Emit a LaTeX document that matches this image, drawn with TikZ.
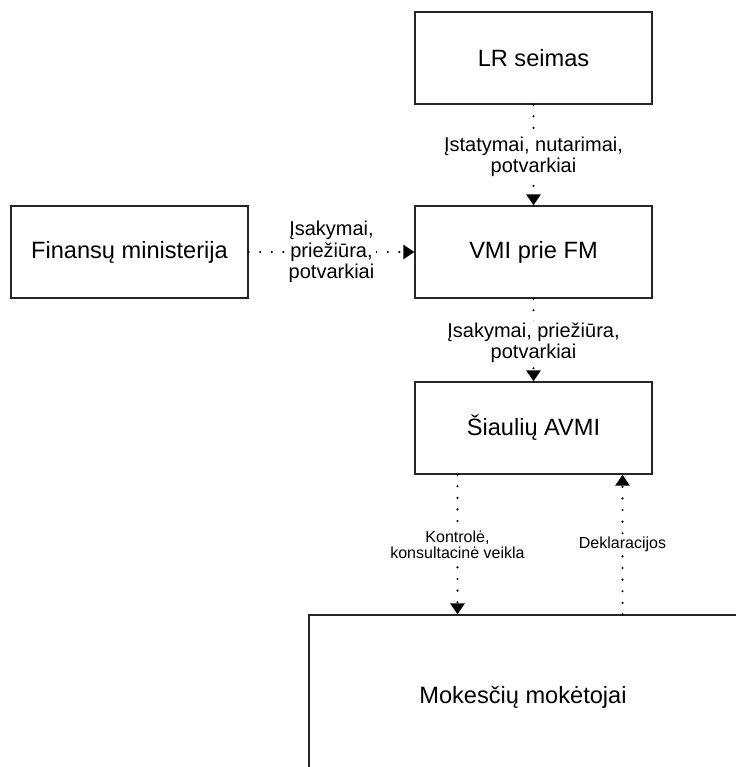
\documentclass[tikz,border=0pt]{standalone}
\usepackage{fontspec}
\setmainfont{Liberation Sans}
\usetikzlibrary{arrows.meta}

\begin{document}
\begin{tikzpicture}[
  x=0.5pt, y=-0.5pt,
  box/.style={draw=black!85, line width=0.6pt, minimum width=118.5pt, minimum height=46pt, font=\fontsize{11.8}{14}\selectfont},
  flow/.style={line width=1.2pt, line cap=round, dash pattern=on 0pt off 5.8pt, -{Triangle[width=7pt, length=5.5pt]}},
  lbl/.style={fill=white, inner sep=1pt, align=center, font=\fontsize{10}{10.6}\selectfont},
  small lbl/.style={lbl, font=\fontsize{8}{7.8}\selectfont},
]
  \useasboundingbox (0,0) rectangle (735,767);

  \node[box] (lr) at (533.5, 58) {LR seimas};
  \node[box] (vmi) at (533.5, 252) {VMI prie FM};
  \node[box] (fin) at (129.5, 252) {Finansų ministerija};
  \node[box] (avmi) at (533.5, 428) {Šiaulių AVMI};
  \node[box, minimum width=214pt, minimum height=82pt] (mok) at (523, 697) {Mokesčių mokėtojai};

  \draw[flow] (lr) -- node[lbl, yshift=-1pt] {Įstatymai, nutarimai,\\potvarkiai} (vmi);
  \draw[flow] (fin) -- node[lbl] {Įsakymai,\\priežiūra,\\potvarkiai} (vmi);
  \draw[flow] (vmi) -- node[lbl, yshift=-1.5pt] {Įsakymai, priežiūra,\\potvarkiai} (avmi);
  \draw[flow] ([xshift=-38pt]avmi.south) -- node[small lbl] {Kontrolė,\\konsultacinė veikla} ([xshift=-38pt]avmi.south |- mok.north);
  \draw[flow] ([xshift=44.5pt]avmi.south |- mok.north) -- node[small lbl] {Deklaracijos} ([xshift=44.5pt]avmi.south);
\end{tikzpicture}
\end{document}
